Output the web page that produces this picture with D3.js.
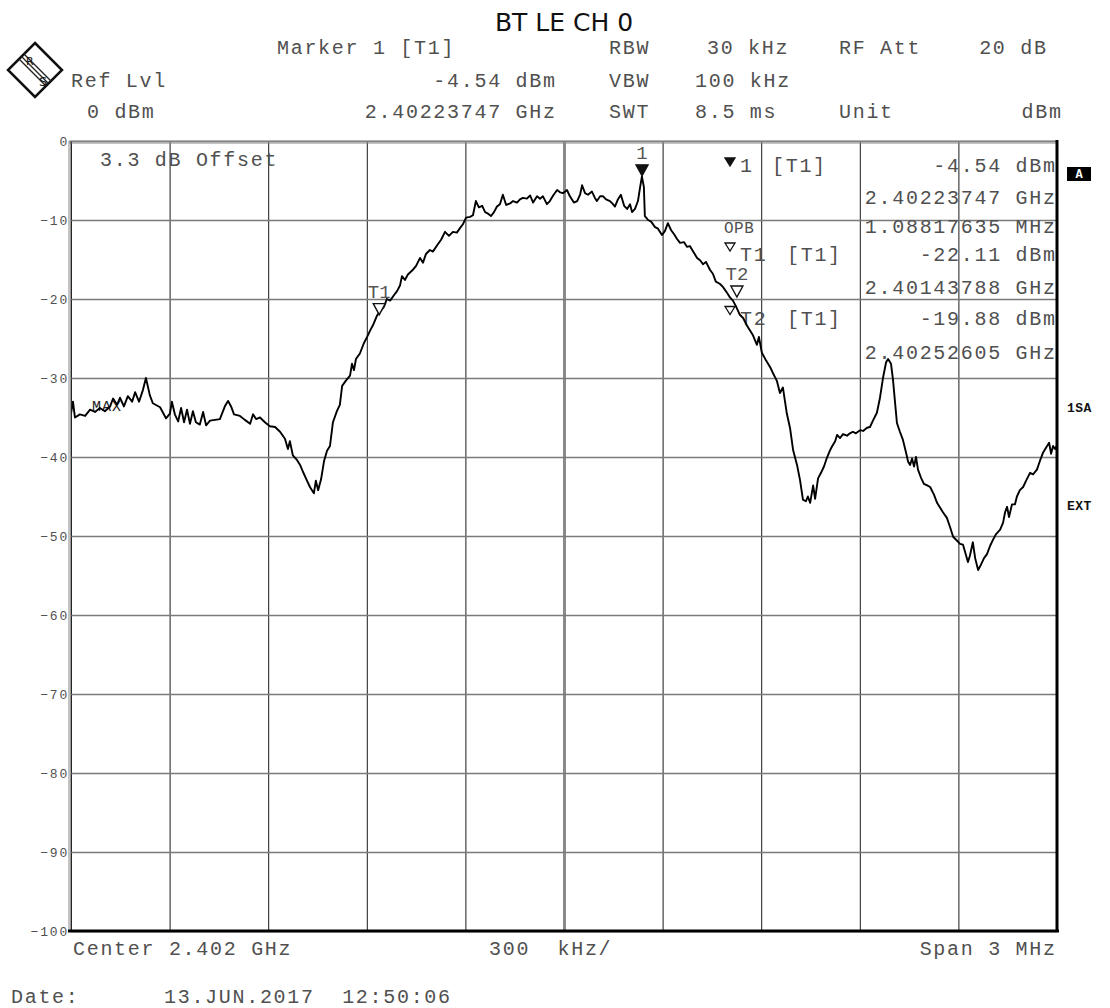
<!DOCTYPE html>
<html>
<head>
<meta charset="utf-8">
<script src="https://cdn.jsdelivr.net/npm/d3@7"></script>
<style>
  body { margin: 0; background: #fff; }
  svg text { font-family: "Liberation Mono", "Courier New", monospace; white-space: pre; }
</style>
</head>
<body>
<div id="chart"></div>
<script>
// sweep settings
const startMHz = 2400.5, stopMHz = 2403.5
const gridFreqs = d3.range(11).map(i => startMHz + i * 0.3)
const levelTicks = [0, -10, -20, -30, -40, -50, -60, -70, -80, -90, -100]

// trace: offset from start frequency (kHz) and level (dBm)
const traceOffsetKHz = [0,6,12,27,43,58,73,88,103,119,128,140,149,161,173,186,195,207,219,228,
  240,249,271,289,301,307,316,326,335,344,353,362,371,380,392,402,411,423,438,453,
  469,478,487,496,514,529,545,554,563,575,590,605,621,636,651,660,666,675,688,697,
  706,718,727,739,745,752,761,770,779,788,797,809,818,825,837,849,855,861,867,879,
  891,901,910,919,931,940,952,961,971,983,992,1001,1007,1016,1025,1038,1050,1062,1071,1080,
  1092,1101,1114,1126,1138,1150,1162,1174,1184,1193,1202,1214,1223,1232,1241,1251,1260,1269,1278,1287,
  1296,1305,1314,1324,1336,1345,1357,1366,1375,1387,1397,1406,1418,1427,1436,1448,1457,1467,1479,1488,
  1497,1509,1518,1530,1540,1549,1555,1564,1573,1585,1594,1600,1610,1619,1628,1640,1649,1655,1664,1673,
  1683,1692,1701,1707,1716,1725,1731,1737,1743,1746,1756,1765,1777,1786,1798,1807,1816,1826,1835,1844,
  1853,1865,1874,1883,1893,1905,1914,1923,1932,1944,1953,1962,1975,1984,1996,2005,2014,2023,2035,2045,
  2057,2066,2075,2087,2093,2102,2115,2127,2136,2148,2157,2166,2178,2188,2197,2209,2218,2227,2236,2242,
  2249,2258,2264,2273,2282,2291,2300,2309,2315,2325,2331,2340,2349,2361,2370,2379,2388,2401,2410,2422,
  2431,2440,2452,2461,2471,2480,2486,2495,2501,2507,2513,2522,2531,2541,2547,2553,2559,2565,2571,2577,
  2586,2595,2605,2614,2626,2635,2644,2653,2665,2674,2684,2696,2705,2714,2723,2729,2735,2744,2751,2760,
  2769,2778,2787,2796,2805,2814,2827,2836,2842,2848,2854,2863,2872,2878,2887,2897,2906,2918,2927,2939,
  2948,2957,2967,2976,2982,2988,2994,3000]
const traceLevel = [-34.5,-33.0,-35.0,-34.6,-34.8,-34.0,-34.3,-33.8,-34.2,-33.6,
  -32.6,-33.4,-32.5,-33.6,-32.3,-33.0,-31.8,-33.0,-31.5,-30.0,
  -32.2,-33.2,-33.7,-35.1,-34.5,-33.0,-34.6,-35.5,-33.8,-35.6,
  -34.0,-35.8,-34.2,-35.6,-35.9,-34.3,-36.0,-35.4,-35.3,-35.2,
  -33.5,-32.9,-33.6,-34.6,-34.8,-35.3,-35.8,-34.6,-35.2,-35.0,
  -35.6,-36.1,-36.2,-36.8,-37.7,-39.0,-38.0,-39.8,-40.4,-41.0,
  -41.9,-43.0,-43.8,-44.6,-43.0,-44.2,-42.8,-40.5,-39.2,-38.6,
  -35.6,-34.2,-33.4,-31.0,-30.3,-29.7,-28.2,-29.0,-27.6,-26.9,
  -25.6,-24.8,-24.0,-23.3,-22.1,-21.6,-21.0,-20.0,-20.2,-19.5,
  -19.0,-18.3,-17.1,-17.6,-16.9,-16.4,-15.8,-14.8,-15.4,-14.3,
  -13.8,-14.0,-13.2,-12.5,-11.5,-12.0,-11.5,-11.6,-11.0,-10.5,
  -9.7,-9.6,-9.4,-7.6,-8.4,-8.2,-9.0,-9.2,-9.5,-9.0,
  -8.3,-8.0,-6.8,-8.1,-7.9,-7.6,-7.8,-7.4,-7.2,-7.3,
  -6.9,-7.8,-7.0,-7.3,-7.0,-8.0,-7.6,-6.9,-6.2,-6.5,
  -6.6,-6.2,-7.0,-7.8,-7.6,-6.8,-5.6,-6.6,-6.8,-6.4,
  -7.2,-7.6,-7.0,-7.0,-7.4,-7.6,-8.0,-8.3,-7.4,-6.8,
  -8.2,-8.6,-8.0,-9.0,-8.6,-7.6,-6.0,-4.5,-5.8,-9.5,
  -10.0,-10.2,-10.9,-11.1,-11.9,-11.4,-10.4,-11.3,-11.8,-12.4,
  -12.9,-12.8,-13.4,-13.3,-14.0,-14.8,-15.1,-15.6,-15.3,-16.3,
  -16.8,-17.8,-18.1,-18.5,-19.2,-19.8,-20.2,-20.9,-22.0,-22.4,
  -23.4,-24.0,-24.6,-25.8,-24.8,-26.8,-27.8,-28.6,-29.4,-30.4,
  -31.9,-31.2,-34.5,-36.4,-39.1,-41.0,-42.9,-45.4,-45.6,-45.0,
  -45.8,-43.6,-45.3,-42.7,-42.0,-41.2,-40.1,-39.2,-38.7,-38.0,
  -37.2,-37.6,-37.1,-37.3,-37.0,-36.8,-37.0,-36.6,-36.7,-36.3,
  -36.2,-35.4,-34.4,-32.6,-29.9,-28.0,-27.6,-28.2,-30.2,-33.0,
  -35.7,-36.8,-37.8,-39.5,-40.6,-41.0,-40.2,-41.2,-40.0,-41.6,
  -42.6,-43.4,-43.6,-43.8,-44.8,-45.8,-46.4,-47.0,-47.7,-48.8,
  -50.1,-50.6,-51.0,-51.1,-52.4,-53.3,-52.5,-50.8,-52.8,-54.3,
  -53.6,-52.8,-52.3,-51.3,-50.5,-49.8,-49.2,-48.3,-47.0,-46.3,
  -47.6,-46.0,-46.0,-45.0,-44.2,-43.8,-43.0,-42.0,-42.2,-41.6,
  -40.5,-39.5,-38.8,-38.2,-39.6,-38.6,-39.0,-38.5]

// markers
const markerNames = ["1", "T1", "T2"]
const markerFreqGHz = [2.40223747, 2.40143788, 2.40252605]
const markerLevel = [-4.54, -22.11, -19.88]
const occupiedBwMHz = 1.08817635

const W = 1110, H = 1008
const pL = 71, pR = 1057, pT = 141, pB = 931
const txt = "#505050"

const svg = d3.select("#chart").append("svg").attr("width", W).attr("height", H)

const x = d3.scaleLinear().domain([startMHz, stopMHz]).range([pL, pR])
const y = d3.scaleLinear().domain([-100, 0]).range([pB, pT])

function label(g, s, px, py, o = {}) {
  const ls = o.ls == null ? 1.7 : o.ls
  const t = g.append("text")
    .attr("x", o.anchor == "end" ? px + ls : px).attr("y", py)
    .attr("text-anchor", o.anchor || "start")
    .style("font-size", (o.size || 20) + "px")
    .style("letter-spacing", ls + "px")
    .style("fill", o.fill || txt)
    .text(s)
  if (o.bold) t.style("font-weight", "bold")
  return t
}

// title
svg.append("text").attr("x", 564).attr("y", 31).attr("text-anchor", "middle")
  .style("font-family", "'DejaVu Sans', Verdana, sans-serif").style("font-size", "25px")
  .style("fill", "#111").text("BT LE CH 0")

// R&S logo
const logo = svg.append("g").attr("transform", "translate(35,70)")
logo.append("path").attr("d", "M0,-27L27,0L0,27L-27,0Z")
  .attr("fill", "none").attr("stroke", "#111").attr("stroke-width", 2.5)
;[-3.5, 0, 3.5].forEach(o => {
  logo.append("line")
    .attr("x1", -13.5 + o * 0.707).attr("y1", -13.5 - o * 0.707)
    .attr("x2", 13.5 + o * 0.707).attr("y2", 13.5 - o * 0.707)
    .attr("stroke", "#222").attr("stroke-width", 1.3)
})
logo.append("text").attr("x", -9).attr("y", -5).style("font-size", "11px")
  .style("font-family", "'DejaVu Sans', sans-serif").style("fill", "#111").text("R")
logo.append("text").attr("x", 4).attr("y", 16).style("font-size", "13px")
  .style("font-family", "'DejaVu Sans', sans-serif").style("fill", "#111").text("S")

// header block
const hdr = svg.append("g")
const m1 = 0
label(hdr, "Marker 1 [T1]", 277, 54)
label(hdr, "RBW", 609, 54); label(hdr, "30 kHz", 707, 54)
label(hdr, "RF Att", 839, 54); label(hdr, "20 dB", 1046, 54, { anchor: "end" })
label(hdr, "Ref Lvl", 71, 87)
label(hdr, markerLevel[m1].toFixed(2) + " dBm", 555, 87, { anchor: "end" })
label(hdr, "VBW", 609, 87); label(hdr, "100 kHz", 695, 87)
label(hdr, "0 dBm", 87, 118)
label(hdr, markerFreqGHz[m1].toFixed(8) + " GHz", 555, 118, { anchor: "end" })
label(hdr, "SWT", 609, 118); label(hdr, "8.5 ms", 695, 118)
label(hdr, "Unit", 839, 118)
label(hdr, "dBm", 1061, 118, { anchor: "end" })

// grid
const grid = svg.append("g")
grid.append("g").attr("transform", `translate(0,${pB})`)
  .call(d3.axisBottom(x).tickValues(gridFreqs).tickSize(-(pB - pT)).tickFormat(""))
  .call(g => g.select(".domain").remove())
  .call(g => g.selectAll(".tick line").attr("stroke", "#1a1a1a").attr("stroke-width", 1)
    .filter(d => Math.abs(d - 2402) < 1e-6).attr("stroke", "#8a8a8a").attr("stroke-width", 3))

grid.append("g").attr("transform", `translate(${pL},0)`)
  .call(d3.axisLeft(y).tickValues(levelTicks).tickSize(-(pR - pL)).tickPadding(2))
  .call(g => g.select(".domain").remove())
  .call(g => g.selectAll(".tick line").attr("stroke", "#7a7a7a").attr("stroke-width", 1.4))
  .call(g => g.selectAll(".tick text")
    .style("font-family", "'Liberation Mono', monospace").style("font-size", "13px")
    .style("letter-spacing", "1.8px").style("fill", "#505050"))

// annotation inside diagram
const ann = svg.append("g")
label(ann, "3.3 dB Offset", 100, 166)
label(ann, "MAX", 92, 411, { size: 15, ls: 1, fill: "#222" })

// marker table
const rowY = [171.5, 203.5, 233, 261, 294, 324.5, 358.5]
const valEnd = 1055
function tri(g, cx, cy, filled) {
  g.append("path").attr("d", `M${cx - 5},${cy - 4}L${cx + 5},${cy - 4}L${cx},${cy + 4}Z`)
    .attr("fill", filled ? "#111" : "#fff").attr("stroke", "#111").attr("stroke-width", 1.3)
}
tri(ann, 730, 162, true)
label(ann, "1", 740, rowY[0]); label(ann, "[T1]", 772, rowY[0])
label(ann, markerLevel[0].toFixed(2) + " dBm", valEnd, rowY[0], { anchor: "end" })
label(ann, markerFreqGHz[0].toFixed(8) + " GHz", valEnd, rowY[1], { anchor: "end" })
label(ann, "OPB", 724, rowY[2], { size: 16, ls: 0.5 })
label(ann, occupiedBwMHz.toFixed(8) + " MHz", valEnd, rowY[2], { anchor: "end" })
;[1, 2].forEach((m, k) => {
  const r = 3 + k * 2
  tri(ann, 730, rowY[r] - 14, false)
  label(ann, markerNames[m], 740, rowY[r]); label(ann, "[T1]", 787, rowY[r])
  label(ann, markerLevel[m].toFixed(2) + " dBm", valEnd, rowY[r], { anchor: "end" })
  label(ann, markerFreqGHz[m].toFixed(8) + " GHz", valEnd, rowY[r + 1], { anchor: "end" })
})

// trace
svg.append("clipPath").attr("id", "plot").append("rect")
  .attr("x", pL).attr("y", pT).attr("width", pR - pL).attr("height", pB - pT)
const pts = traceOffsetKHz.map((k, i) => [startMHz + k / 1000, traceLevel[i]])
svg.append("path").datum(pts)
  .attr("clip-path", "url(#plot)")
  .attr("fill", "none").attr("stroke", "#000").attr("stroke-width", 1.9)
  .attr("stroke-linejoin", "round")
  .attr("d", d3.line().x(d => x(d[0])).y(d => y(d[1])))

// markers on trace
markerNames.forEach((n, i) => {
  const mx = x(markerFreqGHz[i] * 1000), my = y(markerLevel[i]) - 1
  svg.append("path").attr("d", `M${mx - 6},${my - 11}L${mx + 6},${my - 11}L${mx},${my}Z`)
    .attr("fill", i == 0 ? "#111" : "#fff").attr("stroke", "#111").attr("stroke-width", 1.4)
  svg.append("text").attr("x", mx).attr("y", my - 17).attr("text-anchor", "middle")
    .style("font-size", "19px").style("fill", "#555").text(n)
})

// frame
const fr = svg.append("g")
fr.append("line").attr("x1", 69).attr("x2", pR).attr("y1", pT).attr("y2", pT).attr("stroke", "#888").attr("stroke-width", 1)
fr.append("line").attr("x1", 69).attr("x2", pR).attr("y1", pT + 2).attr("y2", pT + 2).attr("stroke", "#888").attr("stroke-width", 1)
fr.append("line").attr("x1", 69).attr("x2", 69).attr("y1", pT).attr("y2", pB).attr("stroke", "#888").attr("stroke-width", 1)
fr.append("line").attr("x1", pL).attr("x2", pL).attr("y1", pT).attr("y2", pB).attr("stroke", "#333").attr("stroke-width", 1)
fr.append("line").attr("x1", 68).attr("x2", pR + 2).attr("y1", pB).attr("y2", pB).attr("stroke", "#000").attr("stroke-width", 3)
fr.append("line").attr("x1", pR).attr("x2", pR).attr("y1", pT - 1).attr("y2", pB + 1).attr("stroke", "#000").attr("stroke-width", 3)

// side labels
fr.append("rect").attr("x", 1067).attr("y", 167).attr("width", 24).attr("height", 14).attr("fill", "#000")
fr.append("text").attr("x", 1079).attr("y", 178).attr("text-anchor", "middle")
  .style("font-size", "12px").style("font-weight", "bold").style("fill", "#fff").text("A")
label(fr, "1SA", 1067, 412, { size: 13, ls: 0.5, bold: true, fill: "#111" })
label(fr, "EXT", 1067, 510, { size: 13, ls: 0.5, bold: true, fill: "#111" })

// footer
const ft = svg.append("g")
label(ft, "Center 2.402 GHz", 73, 955)
label(ft, "300  kHz/", 489, 955)
label(ft, "Span 3 MHz", 1055, 955, { anchor: "end" })
label(ft, "Date:", 11, 1003)
label(ft, "13.JUN.2017  12:50:06", 164, 1003)
</script>
</body>
</html>
